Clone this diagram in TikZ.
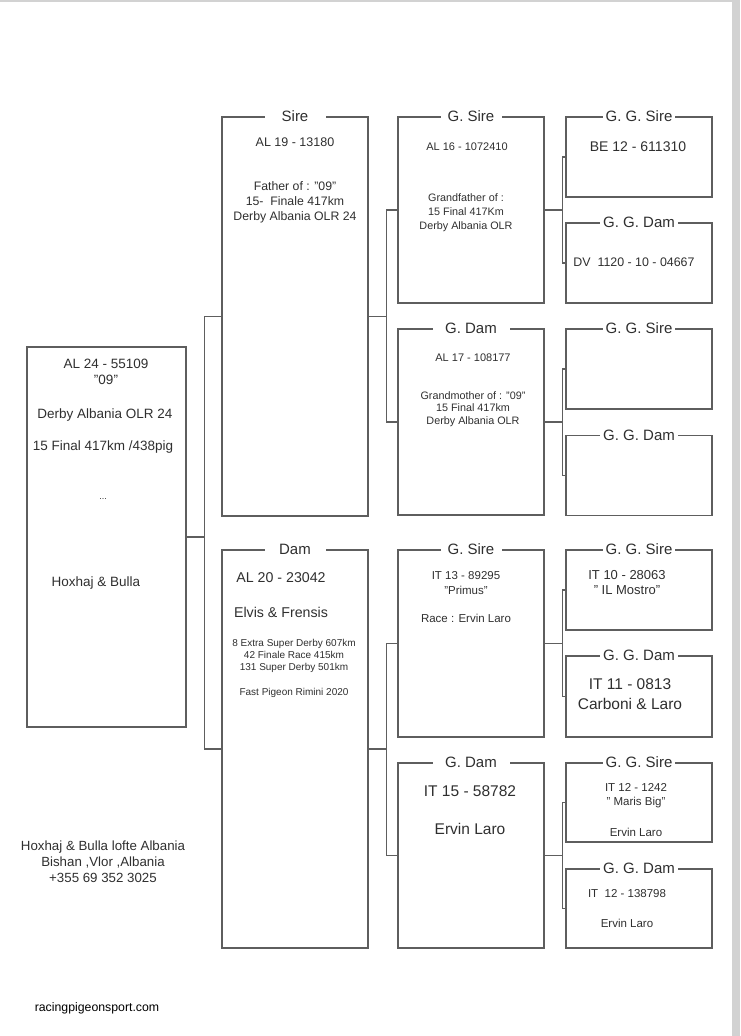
\documentclass[tikz,border=0pt]{standalone}
\usepackage{fontspec}
\setmainfont{Liberation Sans}
\definecolor{linegray}{HTML}{5E5E5E}
\definecolor{textgray}{HTML}{2F2F2F}
\definecolor{pagegray}{HTML}{D2D2D2}

\begin{document}
\begin{tikzpicture}[
  x=1pt, y=-1pt,
  box/.style={
    draw=linegray,
    line width=1.3pt,
    inner sep=0pt,
    minimum width=146pt
  },
  tag/.style={
    fill=white,
    text=textgray,
    inner sep=1pt,
    inner xsep=3pt,
    font=\fontsize{15}{18}\selectfont
  },
  txt/.style={align=center, inner sep=0pt, text=textgray},
  fs/.style 2 args={font=\fontsize{#1}{#2}\selectfont},
  link/.style={draw=linegray, line width=1.2pt}
]
\useasboundingbox (0,0) rectangle (740,1036);
\fill[pagegray] (0,0) rectangle (740,2);
\fill[pagegray] (732,0) rectangle (740,1036);

% the bird
\node[box, minimum width=159pt, minimum height=380pt] (pigeon) at (106.5,537) {};
\node[txt, fs={13.5}{16}] (pigeon-ring) at (106,372) {AL 24 - 55109\\"09"};
\node[txt, fs={13.5}{16}] (pigeon-derby) at (105,415) {Derby Albania OLR 24};
\node[txt, fs={13.5}{16}] (pigeon-final) at (103,447) {15 Final 417km /438pig};
\node[txt, fs={9}{11}] (pigeon-dots) at (103,499) {...};
\node[txt, fs={13.5}{16}] (pigeon-owner) at (96,583) {Hoxhaj \& Bulla};

% parents
\node[box, minimum height=399pt] (sire) at (295,316.5) {};
\node[box, minimum height=398pt] (dam) at (295,749) {};
\node[tag, minimum width=61pt] (sire-tag) at (sire.north) {Sire};
\node[tag, minimum width=61pt] (dam-tag) at (dam.north) {Dam};
\node[txt, fs={12.5}{15}] (sire-ring) at (295,142) {AL 19 - 13180};
\node[txt, fs={12.3}{15}] (sire-note) at (295,202)
  {Father of : "09"\\15-\ \ Finale 417km\\Derby Albania OLR 24};
\node[txt, fs={14.2}{17}] (dam-ring) at (281,578) {AL 20 - 23042};
\node[txt, fs={14.2}{17}] (dam-breeder) at (281,612) {Elvis \& Frensis};
\node[txt, fs={10}{12}] (dam-results) at (294,656)
  {8 Extra Super Derby 607km\\42 Finale Race 415km\\131 Super Derby 501km};
\node[txt, fs={10}{12}] (dam-award) at (294,693) {Fast Pigeon Rimini 2020};

% grandparents
\node[box, minimum height=186pt] (gsire-a) at (471,210) {};
\node[box, minimum height=186pt] (gdam-a) at (471,422) {};
\node[box, minimum height=187pt] (gsire-b) at (471,643.5) {};
\node[box, minimum height=185pt] (gdam-b) at (471,855.5) {};
\node[tag, minimum width=61pt] (gsire-a-tag) at (gsire-a.north) {G. Sire};
\node[tag, minimum width=77pt] (gdam-a-tag) at (gdam-a.north) {G. Dam};
\node[tag, minimum width=61pt] (gsire-b-tag) at (gsire-b.north) {G. Sire};
\node[tag, minimum width=77pt] (gdam-b-tag) at (gdam-b.north) {G. Dam};
\node[txt, fs={11}{13}] (gsire-a-ring) at (467,147) {AL 16 - 1072410};
\node[txt, fs={10.8}{14}] (gsire-a-note) at (466,213)
  {Grandfather of :\\15 Final 417Km\\Derby Albania OLR};
\node[txt, fs={11}{13}] (gdam-a-ring) at (473,358) {AL 17 - 108177};
\node[txt, fs={10.8}{12.7}] (gdam-a-note) at (473,409)
  {Grandmother of : "09"\\15 Final 417km\\Derby Albania OLR};
\node[txt, fs={11.5}{15}] (gsire-b-ring) at (466,583) {IT 13 - 89295\\"Primus"};
\node[txt, fs={11.5}{14}] (gsire-b-race) at (466,618) {Race : Ervin Laro};
\node[txt, fs={15.5}{18}] (gdam-b-ring) at (470,791) {IT 15 - 58782};
\node[txt, fs={15.5}{18}] (gdam-b-breeder) at (470,829) {Ervin Laro};

% great grandparents
\node[box, minimum height=80pt] (ggsire-a) at (639,157) {};
\node[box, minimum height=80pt] (ggdam-a) at (639,263) {};
\node[box, minimum height=80pt] (ggsire-b) at (639,369) {};
\node[box, minimum height=80pt] (ggdam-b) at (639,475.5) {};
\node[box, minimum height=80pt] (ggsire-c) at (639,590) {};
\node[box, minimum height=81pt] (ggdam-c) at (639,696.5) {};
\node[box, minimum height=79pt] (ggsire-d) at (639,802.5) {};
\node[box, minimum height=79pt] (ggdam-d) at (639,908.5) {};
\node[tag] (ggsire-a-tag) at (ggsire-a.north) {G. G. Sire};
\node[tag] (ggdam-a-tag) at (ggdam-a.north) {G. G. Dam};
\node[tag] (ggsire-b-tag) at (ggsire-b.north) {G. G. Sire};
\node[tag] (ggdam-b-tag) at (ggdam-b.north) {G. G. Dam};
\node[tag] (ggsire-c-tag) at (ggsire-c.north) {G. G. Sire};
\node[tag] (ggdam-c-tag) at (ggdam-c.north) {G. G. Dam};
\node[tag] (ggsire-d-tag) at (ggsire-d.north) {G. G. Sire};
\node[tag] (ggdam-d-tag) at (ggdam-d.north) {G. G. Dam};
\node[txt, fs={14}{17}] (ggsire-a-ring) at (638,147) {BE 12 - 611310};
\node[txt, fs={12.4}{15}] (ggdam-a-ring) at (634,262) {DV\ \ 1120 - 10 - 04667};
\node[txt, fs={13}{15}] (ggsire-c-ring) at (627,583) {IT 10 - 28063\\" IL Mostro"};
\node[txt, fs={15.5}{20}] (ggdam-c-ring) at (630,694) {IT 11 - 0813\\Carboni \& Laro};
\node[txt, fs={11.5}{14}] (ggsire-d-ring) at (636,796) {IT 12 - 1242\\" Maris Big"};
\node[txt, fs={11.5}{14}] (ggsire-d-breeder) at (636,832) {Ervin Laro};
\node[txt, fs={11.5}{14}] (ggdam-d-ring) at (627,894) {IT\ \ 12 - 138798};
\node[txt, fs={11.5}{14}] (ggdam-d-breeder) at (627,923) {Ervin Laro};

% loft
\node[txt, fs={13.3}{16}] (loft) at (103,862)
  {Hoxhaj \& Bulla lofte Albania\\Bishan ,Vlor ,Albania\\+355 69 352 3025};
\node[txt, text=black, fs={12.3}{15}] (site) at (97,1008) {racingpigeonsport.com};

\draw[link] (pigeon.east) -- ++(18,0) |- (sire.west);
\draw[link] (pigeon.east) -- ++(18,0) |- (dam.west);
\draw[link] (sire.east) -- ++(18,0) |- (gsire-a.west);
\draw[link] (sire.east) -- ++(18,0) |- (gdam-a.west);
\draw[link] (dam.east) -- ++(18,0) |- (gsire-b.west);
\draw[link] (dam.east) -- ++(18,0) |- (gdam-b.west);
\draw[link] (gsire-a.east) -- ++(18,0) |- (ggsire-a.west);
\draw[link] (gsire-a.east) -- ++(18,0) |- (ggdam-a.west);
\draw[link] (gdam-a.east) -- ++(18,0) |- (ggsire-b.west);
\draw[link] (gdam-a.east) -- ++(18,0) |- (ggdam-b.west);
\draw[link] (gsire-b.east) -- ++(18,0) |- (ggsire-c.west);
\draw[link] (gsire-b.east) -- ++(18,0) |- (ggdam-c.west);
\draw[link] (gdam-b.east) -- ++(18,0) |- (ggsire-d.west);
\draw[link] (gdam-b.east) -- ++(18,0) |- (ggdam-d.west);
\end{tikzpicture}
\end{document}
